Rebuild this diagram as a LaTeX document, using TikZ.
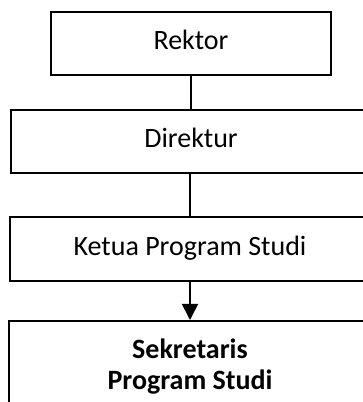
\documentclass[tikz,border=0pt]{standalone}
\usepackage{fontspec}
\setmainfont{Carlito}
\usetikzlibrary{arrows.meta}
\begin{document}
\begin{tikzpicture}[x=1pt,y=1pt,
  box/.style={draw=black, line width=1.6pt, fill=white, inner sep=0pt,
    font=\fontsize{28}{31}\selectfont, text height=18pt, text depth=5pt},
  conn/.style={draw=black, line width=1.6pt}]
\useasboundingbox (0,0) rectangle (363,402);
\clip (0,0) rectangle (363,402);
\node[box, minimum width=280pt, minimum height=63pt] (rektor) at (191,358.5) {Rektor};
\node[box, minimum width=360pt, minimum height=63pt] (direktur) at (191,260.5) {Direktur};
\node[box, minimum width=360pt, minimum height=64pt] (ketua) at (190,153) {Ketua Program Studi};
\node[box, minimum width=362pt, anchor=north, align=center, inner ysep=18pt,
  text height=, text depth=, font=\fontsize{28}{31}\selectfont\bfseries] (sek) at (190,82)
  {Sekretaris\\Program Studi};
\draw[conn] (rektor.south) -- (rektor.south |- direktur.north);
\draw[conn] (ketua.north |- direktur.south) -- (ketua.north);
\draw[conn, -{Triangle[length=16pt,width=16pt]}] (ketua.south) -- (ketua.south |- sek.north);
\end{tikzpicture}
\end{document}
